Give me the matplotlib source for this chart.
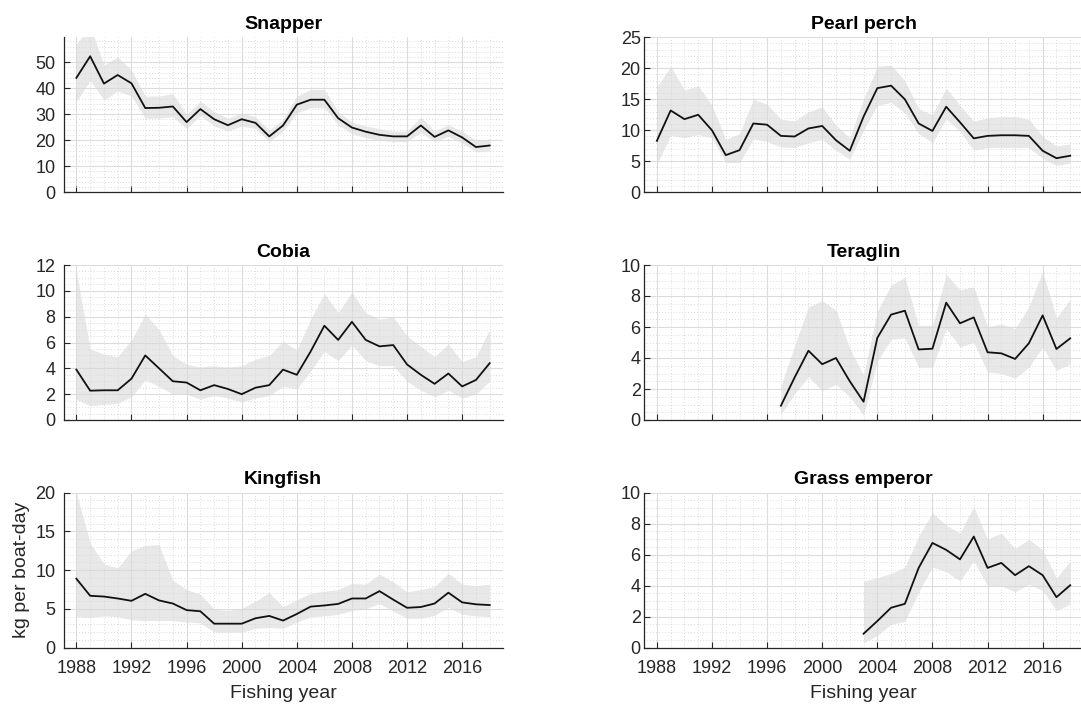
import matplotlib
matplotlib.use('Agg')
import matplotlib.pyplot as plt
from matplotlib.ticker import MultipleLocator

plt.rcParams['font.family'] = ['Liberation Sans', 'DejaVu Sans']

years = list(range(1988, 2019))

# Snapper
snapper = [44.0, 52.3, 41.8, 45.1, 41.9, 32.4, 32.5, 33.0, 27.0, 32.0, 28.1, 25.8, 28.1, 26.7, 21.5, 25.7,
           33.7, 35.6, 35.6, 28.5, 24.9, 23.3, 22.1, 21.5, 21.5, 25.7, 21.3, 23.8, 21.1, 17.4, 18.0]
snapper_hi = [57, 64, 49, 52, 47, 37, 37, 38, 30, 35, 31, 28.5, 30.5, 29, 24, 28,
              37, 39.5, 39.5, 31, 27, 25.5, 24.5, 23.5, 23.5, 29, 23.5, 26, 23.5, 20, 20.5]
snapper_lo = [35, 43, 35.5, 39, 37, 28.5, 28.5, 29, 24.5, 29.5, 25.5, 23.5, 25.5, 24.5, 19.5, 23.5,
              30.5, 32.5, 32.5, 26, 22.5, 21, 20, 19.5, 19.5, 23, 19.5, 21.5, 19, 15.5, 16]

# Pearl perch
pearl = [8.3, 13.2, 11.8, 12.5, 10.0, 6.0, 6.8, 11.1, 10.9, 9.1, 9.0, 10.3, 10.7, 8.4, 6.7, 12.2,
         16.8, 17.2, 15.0, 11.1, 9.9, 13.8, 11.3, 8.7, 9.1, 9.2, 9.2, 9.1, 6.7, 5.5, 5.9]
pearl_hi = [17, 20.3, 16.5, 17.2, 14, 8.5, 9.5, 15, 14.2, 11.8, 11.5, 13, 13.8, 10.8, 8.8, 15,
            20.3, 20.5, 18, 13.5, 12.5, 16.8, 14, 11.5, 12, 12.2, 12.2, 11.8, 9, 7.5, 7.8]
pearl_lo = [4.5, 9.2, 8.8, 9.3, 8.8, 4.8, 4.8, 8.6, 8.2, 7.3, 7.2, 8, 8.5, 6.8, 5.3, 10,
            14, 14.5, 12.8, 9.5, 8, 11.8, 9.8, 6.8, 7.2, 7.2, 7.2, 7.2, 5.5, 4.3, 4.7]

# Cobia
cobia = [3.9, 2.27, 2.3, 2.3, 3.2, 5.0, 4.0, 3.0, 2.9, 2.3, 2.7, 2.4, 2.0, 2.5, 2.7, 3.9,
         3.5, 5.3, 7.3, 6.2, 7.6, 6.2, 5.7, 5.8, 4.3, 3.5, 2.8, 3.6, 2.6, 3.1, 4.4]
cobia_hi = [11.5, 5.5, 5.1, 4.9, 6.2, 8.2, 7, 5, 4.3, 4.1, 4.2, 4.1, 4.2, 4.7, 5, 6.1,
            5.4, 7.8, 9.8, 8.3, 9.9, 8.3, 7.8, 8, 6.5, 5.7, 4.9, 5.9, 4.5, 4.9, 7]
cobia_lo = [1.6, 1.1, 1.2, 1.3, 1.8, 3.1, 2.6, 2, 2, 1.6, 1.9, 1.7, 1.4, 1.7, 1.9, 2.6,
            2.4, 3.8, 5.3, 4.6, 5.8, 4.6, 4.2, 4.2, 3, 2.3, 1.8, 2.3, 1.7, 2, 3]

# Teraglin (from 1997)
teraglin_years = list(range(1997, 2019))
teraglin = [0.92, 2.75, 4.47, 3.6, 4.0, 2.5, 1.18, 5.3, 6.8, 7.05, 4.55, 4.6, 7.57, 6.24, 6.62,
            4.37, 4.3, 3.94, 4.95, 6.75, 4.58, 5.27]
teraglin_hi = [2.2, 4.8, 7.3, 7.7, 7.1, 4.6, 2.9, 7, 8.7, 9.2, 6.1, 6.1, 9.4, 8.4, 8.6,
               6, 6.2, 5.9, 7.3, 9.6, 6.6, 7.8]
teraglin_lo = [0.35, 1.7, 2.8, 1.9, 2.3, 1.5, 0.3, 3.8, 5.2, 5.3, 3.4, 3.4, 5.9, 4.7, 5,
               3.1, 3, 2.7, 3.4, 4.7, 3.2, 3.6]

# Kingfish
kingfish = [8.9, 6.7, 6.6, 6.35, 6.05, 6.95, 6.1, 5.7, 4.85, 4.7, 3.1, 3.1, 3.1, 3.8, 4.1, 3.5,
            4.35, 5.3, 5.45, 5.65, 6.35, 6.35, 7.3, 6.2, 5.15, 5.25, 5.7, 7.1, 5.85, 5.6, 5.5]
kingfish_hi = [20, 13.5, 10.8, 10.3, 12.5, 13.2, 13.3, 8.7, 7.5, 6.9, 5, 4.8, 5.1, 6, 7.1, 5.3,
               6.2, 7, 7.3, 7.5, 8.3, 8.2, 9.5, 8.5, 7.2, 7.5, 7.9, 9.6, 8.2, 8, 8.2]
kingfish_lo = [4, 3.9, 4.1, 4.0, 3.6, 3.5, 3.5, 3.5, 3.3, 3.2, 2, 2, 2, 2.5, 2.6, 2.5,
               3.3, 4, 4.1, 4.3, 4.8, 5, 5.7, 4.7, 3.8, 3.8, 4.2, 5.2, 4.3, 4.1, 4]

# Grass emperor (from 2003)
grass_years = list(range(2003, 2019))
grass = [0.9, 1.72, 2.58, 2.83, 5.15, 6.76, 6.31, 5.7, 7.17, 5.15, 5.47, 4.68, 5.26, 4.68, 3.26, 4.03]
grass_hi = [4.3, 4.5, 4.8, 5.2, 7.2, 8.7, 7.9, 7.4, 9.1, 7.0, 7.4, 6.4, 7, 6.3, 4.5, 5.6]
grass_lo = [0.3, 0.8, 1.5, 1.7, 3.6, 5.2, 4.9, 4.3, 5.6, 4, 4, 3.6, 4.1, 3.7, 2.4, 2.8]

xticks = list(range(1988, 2017, 4))

panels = [
    ('Snapper', years, snapper, snapper_lo, snapper_hi, 59.6, 10, 2),
    ('Pearl perch', years, pearl, pearl_lo, pearl_hi, 25, 5, 1),
    ('Cobia', years, cobia, cobia_lo, cobia_hi, 12, 2, 0.5),
    ('Teraglin', teraglin_years, teraglin, teraglin_lo, teraglin_hi, 10, 2, 0.5),
    ('Kingfish', years, kingfish, kingfish_lo, kingfish_hi, 20, 5, 1),
    ('Grass emperor', grass_years, grass, grass_lo, grass_hi, 10, 2, 0.5),
]

W, H = 1081, 706
fig = plt.figure(figsize=(W / 100, H / 100), dpi=100)

lefts = [63.7, 644.2]
ypads = [6, 2.5]
bottoms = [192.3, 420.0, 647.7]
ax_w = 439.1
ax_h = 155.0

txt_col = '#262626'
for i, (name, x, y, lo, hi, ymax, ystep, yminor) in enumerate(panels):
    row, col = i // 2, i % 2
    ax = fig.add_axes([lefts[col] / W, (H - bottoms[row]) / H, ax_w / W, ax_h / H])
    ax.fill_between(x, lo, hi, color='#d9d9d9', alpha=0.6, linewidth=0, zorder=2)
    ax.plot(x, y, color='#111111', linewidth=1.3, zorder=3)
    ax.set_xlim(1987.08, 2018.95)
    ax.set_ylim(0, ymax)
    ax.set_xticks(xticks)
    ax.yaxis.set_major_locator(MultipleLocator(ystep))
    ax.xaxis.set_minor_locator(MultipleLocator(1))
    ax.yaxis.set_minor_locator(MultipleLocator(yminor))
    ax.grid(True, which='major', color='#dcdcdc', linewidth=0.8, zorder=0)
    ax.grid(True, which='minor', color='#cfcfcf', linestyle=(0, (1, 2.5)), linewidth=0.6, zorder=0)
    ax.set_axisbelow(True)
    ax.spines['top'].set_visible(False)
    ax.spines['right'].set_visible(False)
    for s in ['left', 'bottom']:
        ax.spines[s].set_color('#262626')
        ax.spines[s].set_linewidth(0.9)
    ax.tick_params(which='major', direction='in', length=4, width=0.8, colors=txt_col,
                   labelsize=13)
    ax.tick_params(axis='x', which='major', pad=8.5)
    ax.tick_params(axis='y', which='major', pad=ypads[col])
    ax.tick_params(which='minor', length=0)
    ax.set_title(name, fontsize=14, fontweight='bold', pad=6)
    if row < 2:
        ax.set_xticklabels([])
    else:
        ax.set_xlabel('Fishing year', fontsize=14, color=txt_col, labelpad=6)
    if i == 4:
        ax.set_ylabel('kg per boat-day', fontsize=14, color=txt_col, labelpad=4)

fig.savefig('out.png', dpi=100)
